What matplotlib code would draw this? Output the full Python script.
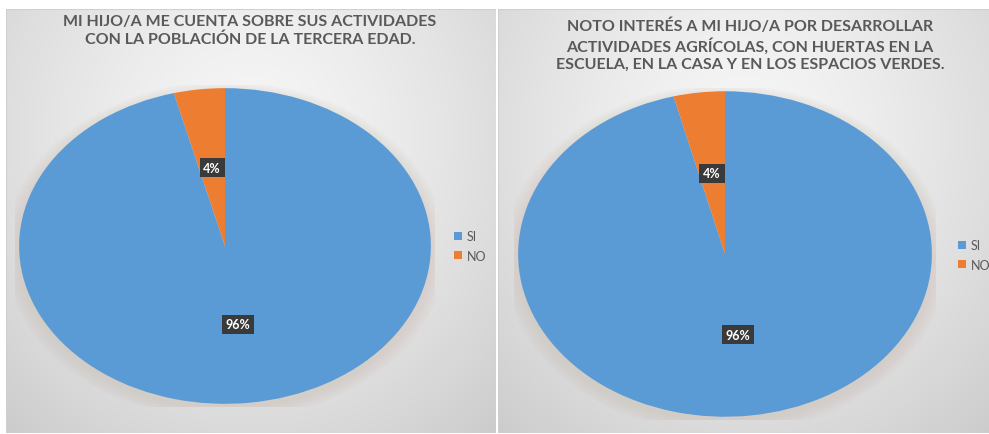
import numpy as np
import matplotlib
matplotlib.use("Agg")
import matplotlib.pyplot as plt
from matplotlib.patches import Ellipse

# data
labels = ["SI", "NO"]
values_left = [96, 4]
values_right = [96, 4]
title_left = "MI HIJO/A ME CUENTA SOBRE SUS ACTIVIDADES\nCON LA POBLACIÓN DE LA TERCERA EDAD."
title_right = ("NOTO INTERÉS A MI HIJO/A POR DESARROLLAR\n"
               "ACTIVIDADES AGRÍCOLAS, CON HUERTAS EN LA\n"
               "ESCUELA, EN LA CASA Y EN LOS ESPACIOS VERDES.")
colors = ["#5B9BD5", "#ED7D31"]

W, H = 989, 435
plt.rcParams['font.family'] = ['Lato', 'DejaVu Sans']
fig = plt.figure(figsize=(W / 100, H / 100), dpi=100, facecolor="white")


def box(x0, y0, x1, y1):
    # pixel box (top-left origin) -> figure fraction rect
    return [x0 / W, 1 - y1 / H, (x1 - x0) / W, (y1 - y0) / H]


def panel(x0, y0, x1, y1):
    ax = fig.add_axes(box(x0, y0, x1, y1))
    ny, nx = 200, 200
    yy, xx = np.mgrid[0:1:ny * 1j, 0:1:nx * 1j]
    r = np.sqrt(((xx - 0.5) / 0.8) ** 2 + ((yy - 0.3) / 1.0) ** 2)
    v = 0.965 - 0.18 * np.clip(r, 0, 1) ** 1.4
    img = np.dstack([v, v, v])
    ax.imshow(img, aspect="auto", extent=(0, 1, 0, 1), origin="upper")
    ax.set_axis_off()
    ax.add_patch(plt.Rectangle((0, 0), 1, 1, fill=False, ec="#d0d0d0", lw=0.8,
                               transform=ax.transAxes))


def pie(vals, cx, cy, rx, ry, title, title_y, leg_x, leg_y):
    ax = fig.add_axes(box(cx - rx, cy - ry, cx + rx, cy + ry))
    ax.set_axis_off()
    # soft shadow under the pie
    for k in range(10):
        s = 1.0 + 0.008 * k
        ax.add_patch(Ellipse((0, -0.03), 2 * s, 2 * s, fc="#c9b9a8",
                             ec="none", alpha=0.04, zorder=0))
    wedges, _, autotexts = ax.pie(vals, colors=colors, startangle=90,
                                  counterclock=False, autopct="%1.0f%%",
                                  pctdistance=0.5, radius=1.0,
                                  wedgeprops=dict(linewidth=0))
    for t in autotexts:
        t.set_color("white")
        t.set_fontsize(9)
        t.set_fontweight("bold")
        t.set_bbox(dict(boxstyle="square,pad=0.3", fc="#3a3a3a", ec="none"))
    ax.set_aspect("auto")
    ax.set_xlim(-1.02, 1.02)
    ax.set_ylim(-1.02, 1.02)
    fig.text((cx + 25) / W, 1 - title_y / H, title, ha="center", va="top",
             fontsize=11.5, fontweight="bold", color="#595959", linespacing=1.3)
    ax.legend(wedges, labels, loc="center left",
              bbox_to_anchor=(leg_x / W, 1 - leg_y / H),
              bbox_transform=fig.transFigure, frameon=False,
              handlelength=0.6, handleheight=0.6, handletextpad=0.4,
              labelspacing=0.6, fontsize=9, labelcolor="#595959",
              borderaxespad=0)


panel(6, 10, 496, 434)
panel(498, 10, 992, 434)

pie(values_left, 225, 247, 210, 161, title_left, 15, 449, 247)
pie(values_right, 725, 255, 211, 166, title_right, 18, 953, 256)

fig.savefig("out.png", dpi=100, facecolor="white")
